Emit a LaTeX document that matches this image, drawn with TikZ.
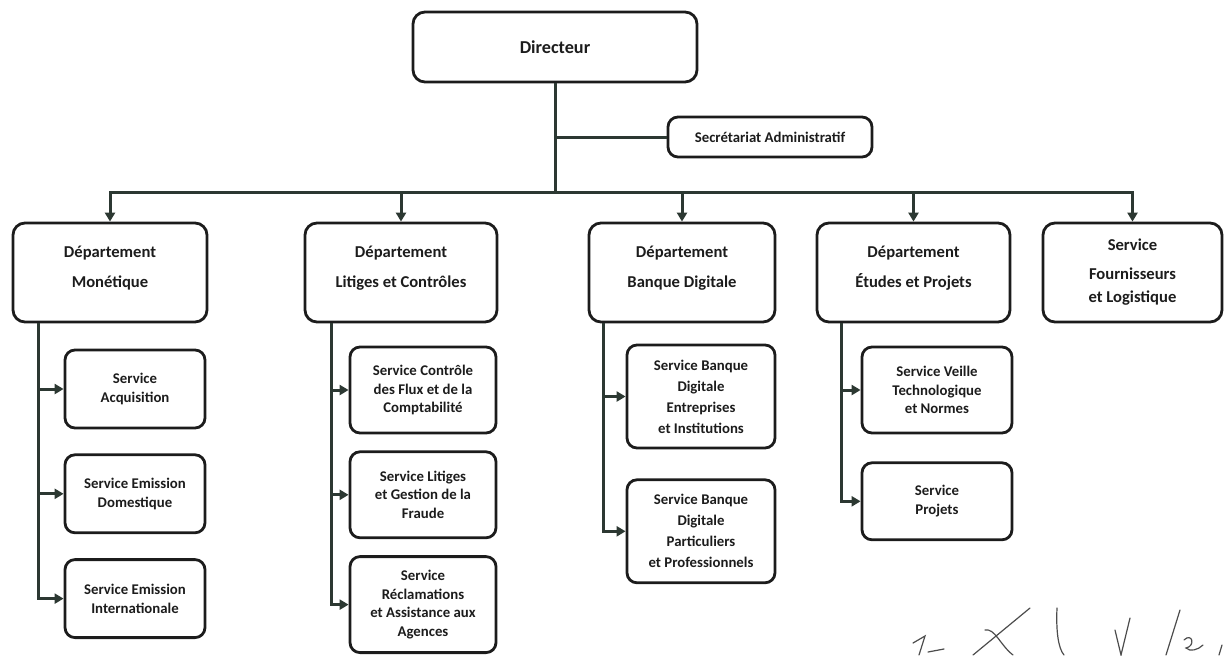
\documentclass[tikz,border=0pt]{standalone}
\usepackage{fontspec}
\setmainfont{Carlito}
\usetikzlibrary{positioning,arrows.meta}
\definecolor{linkgray}{RGB}{44,56,50}
\definecolor{inkblack}{RGB}{28,28,28}
\newcommand{\toprows}[1]{\begin{tabular}[t]{@{}c@{}}#1\end{tabular}}

\begin{document}
\begin{tikzpicture}[
  x=0.5pt, y=-0.5pt,
  node distance=12pt,
  box/.style={draw=inkblack, line width=1.4pt, rounded corners=5pt, align=center,
              text=inkblack, font=\bfseries\fontsize{7.4}{9.4}\selectfont, inner sep=2pt},
  head/.style={box, rounded corners=6pt, minimum width=142pt, minimum height=35pt,
               font=\bfseries\fontsize{9.1}{11}\selectfont},
  dept/.style={box, rounded corners=6pt, inner ysep=0pt, text height=17pt, text depth=32.5pt,
               font=\bfseries\fontsize{8.3}{15}\selectfont},
  serv/.style={box, minimum width=70pt, minimum height=39pt},
  servmid/.style={serv, minimum width=73pt, minimum height=43pt},
  servtall/.style={serv, minimum width=74pt, minimum height=51.5pt,
                   font=\bfseries\fontsize{7.4}{10.5}\selectfont},
  link/.style={draw=linkgray, line width=1.5pt},
  ar/.style={link, -{Triangle[length=4.5pt, width=5pt]}},
  sig/.style={draw=black!70, line width=0.6pt, line cap=round}
]
\useasboundingbox (0,0) rectangle (1227,655);

% top of the chart
\node[head] (dir) at (555,47) {Directeur};
\node[box, minimum width=102pt, minimum height=20pt] (sec) at (770,137) {Secrétariat Administratif};

% departments
\node[dept, minimum width=97pt] (mon) at (110,272.5) {\toprows{Département\\Monétique}};
\node[dept, minimum width=96pt] (lit) at (401,272.5) {\toprows{Département\\Litiges et Contrôles}};
\node[dept, minimum width=93pt] (bdg) at (682,272.5) {\toprows{Département\\Banque Digitale}};
\node[dept, minimum width=96.5pt] (etu) at (913.5,272.5) {\toprows{Département\\Études et Projets}};
\node[dept, minimum width=89.5pt, text height=13.5pt, text depth=36pt,
      font=\bfseries\fontsize{8.3}{11.5}\selectfont] (fou) at (1132.5,272.5)
  {\toprows{Service\\[3pt]Fournisseurs\\et Logistique}};

% services
\node[serv] (acq) at (135,389) {Service\\Acquisition};
\node[serv, below=of acq] (dom) {Service Emission\\Domestique};
\node[serv, below=of dom] (int) {Service Emission\\Internationale};

\node[servmid] (flux) at (423,390) {Service Contrôle\\des Flux et de la\\Comptabilité};
\node[servmid, below=8pt of flux] (fraude) {Service Litiges\\et Gestion de la\\Fraude};
\node[servmid, minimum height=48pt, below=8pt of fraude] (recl)
  {Service\\Réclamations\\et Assistance aux\\Agences};

\node[servtall] (bdei) at (701,396.5) {Service Banque\\Digitale\\Entreprises\\et Institutions};
\node[servtall, below=14.5pt of bdei] (bdpp) {Service Banque\\Digitale\\Particuliers\\et Professionnels};

\node[servmid, minimum width=75pt] (veil) at (937,390) {Service Veille\\Technologique\\et Normes};
\node[serv, minimum width=75pt, minimum height=38.5pt, below=13.5pt of veil] (proj) {Service\\Projets};

% links
\coordinate (bus) at (555,192);
\draw[link] (dir.south) -- (bus);
\draw[link] (sec.west) -- (sec.west -| dir.south);
\foreach \d in {mon,lit,bdg,etu,fou}
  \draw[ar] (bus) -| (\d.north);

\coordinate (monstem) at ([xshift=13.5pt]mon.south west);
\coordinate (litstem) at ([xshift=14pt]lit.south west);
\coordinate (bdgstem) at ([xshift=8pt]bdg.south west);
\coordinate (etustem) at ([xshift=13pt]etu.south west);
\draw[ar] (monstem) |- (int.west);
\foreach \s in {acq,dom}
  \draw[ar] (monstem |- \s.west) -- (\s.west);
\draw[ar] (litstem) |- (recl.west);
\foreach \s in {flux,fraude}
  \draw[ar] (litstem |- \s.west) -- (\s.west);
\draw[ar] (bdgstem) |- (bdpp.west);
\draw[ar] (bdgstem |- bdei.west) -- (bdei.west);
\draw[ar] (etustem) |- (proj.west);
\draw[ar] (etustem |- veil.west) -- (veil.west);

% signatures
\draw[sig] (913,643) -- (925,636) -- (919,655);
\draw[sig] (928,652) -- (944,649);
\draw[sig] (973,655) -- (1030,608);
\draw[sig] (985,630) .. controls (995,628) and (1000,645) .. (1013,655);
\draw[sig] (1057,608) .. controls (1056,630) and (1058,648) .. (1064,655);
\draw[sig] (1115,630) -- (1121,655) -- (1130,618);
\draw[sig] (1180,610) -- (1166,655);
\draw[sig] (1184,640) .. controls (1192,632) and (1196,646) .. (1186,648)
  .. controls (1190,652) and (1198,650) .. (1203,645);
\draw[sig] (1222,645) -- (1219,655);
\end{tikzpicture}
\end{document}
